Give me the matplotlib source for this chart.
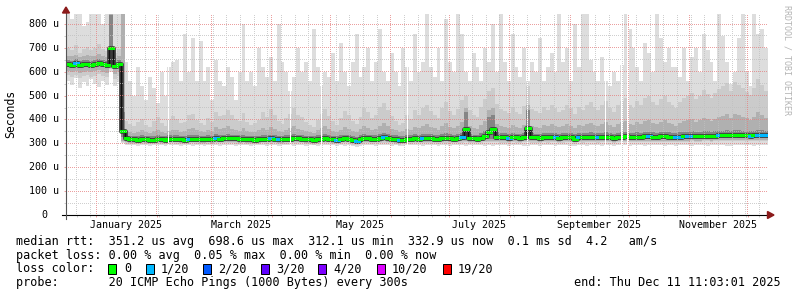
import datetime as dt
import numpy as np
import matplotlib
matplotlib.use("Agg")
import matplotlib.pyplot as plt
import matplotlib.dates as mdates
from matplotlib.ticker import MultipleLocator
from matplotlib.transforms import offset_copy
from matplotlib.patches import Rectangle, Polygon
from matplotlib.lines import Line2D

plt.rcParams['font.family'] = ['DejaVu Sans Mono', 'DejaVu Sans']

# ---------------- data ----------------
START = dt.datetime(2024, 12, 16, 11, 3, 1)
END = dt.datetime(2025, 12, 11, 11, 3, 1)
BUCKET_DAYS = 2

# top of the smoke (slowest ping), microseconds, one value per 2-day bucket
rtt_max = [
    850, 820, 850, 850, 790, 810, 850, 850, 850, 800, 850, 850, 850, 850,
    850,
    640, 560, 500, 620, 540, 480, 580, 530, 470, 600, 500,
    620,
    640, 650, 560, 760, 600, 740, 560, 730, 560,
    620, 480, 650, 560, 540, 620, 580, 480, 600,
    800, 560, 600, 540, 700, 620, 580, 660,
    560, 800, 640, 600, 520, 580, 700, 600,
    640, 560, 780, 620, 540, 600, 580, 680,
    560, 720, 600, 540, 640, 760, 580, 620,
    700, 560, 640, 780, 600, 560, 680, 600,
    540, 700, 620, 560, 760, 600, 640, 850,
    620, 580, 700, 560, 820, 640, 600, 850,
    760, 600, 560, 680, 620, 560, 700, 640,
    800, 600, 850, 640, 560, 760, 620, 580,
    700, 560, 640, 600, 740, 560, 620, 680,
    600, 850, 640, 700, 560, 800, 620, 850,
    850, 650, 600, 560, 660, 560, 540, 600,
    560, 630, 850, 780, 700, 620, 560, 720,
    680, 600, 850, 740, 640, 700, 620, 620,
    580, 700, 560, 660, 700, 600, 760, 690,
    640, 560, 850, 750, 640, 550, 600, 740,
    850, 600, 540, 850, 760, 780, 700]

# bottom of the smoke (fastest ping)
rtt_min = [
    560, 545, 575, 530, 555, 540, 570, 550, 535, 560, 545, 600, 540, 555,
    300,
    294, 292, 295, 291, 293, 294, 290, 292, 295, 293, 291, 294, 292, 293, 290,
    293, 295, 291, 292, 294, 290, 293, 292, 295, 291, 293, 294, 292, 290, 293,
    292, 294, 291, 293, 295, 292, 290, 294, 293, 291, 292, 295, 293, 290, 292,
    294, 291, 293, 292, 290, 295, 293, 292, 294, 291, 293, 290, 292, 288, 286,
    291, 293, 295, 292, 290, 294, 292, 293, 291, 295, 288, 289, 293, 294, 292,
    293, 290, 292, 294, 293, 291, 295, 292, 290, 293, 294, 292, 291, 293, 295,
    292, 294, 290, 293, 291, 292, 295, 293, 290, 292, 294, 293, 291, 290, 294,
    293, 291, 294, 292, 295, 290, 293, 292, 294, 291, 288, 295, 292, 290, 293,
    295, 292, 290, 294, 293, 291, 292, 295, 293, 290, 294, 292, 293, 291, 294,
    292, 295, 293, 290, 292, 294, 291, 293, 295, 292, 290, 294, 293, 292, 291,
    294, 292, 293, 295, 291, 290, 293, 294, 292, 295, 293, 291, 292, 294, 293]

band2_lo = [
    585, 578, 588, 575, 582, 586, 578, 584, 590, 582, 576, 610, 570, 582,
    304,
    299, 297, 298, 297, 299, 298, 296, 297, 299, 298, 297, 299, 300, 299, 298,
    297, 299, 300, 299, 298, 297, 299, 298, 301, 300, 300, 301, 300, 299, 298,
    300, 298, 297, 296, 298, 300, 299, 301, 300, 298, 297, 299, 300, 301, 300,
    300, 298, 297, 295, 298, 300, 301, 300, 298, 296, 299, 301, 300, 295, 293,
    298, 301, 300, 299, 300, 301, 303, 302, 300, 298, 295, 296, 300, 299, 301,
    300, 301, 302, 301, 300, 299, 302, 303, 301, 300, 302, 303, 304, 302, 301,
    300, 303, 304, 305, 306, 304, 303, 303, 302, 304, 303, 302, 304, 305, 303,
    303, 302, 304, 303, 304, 304, 302, 303, 304, 304, 299, 304, 303, 304, 305,
    304, 303, 304, 305, 304, 302, 304, 305, 306, 304, 304, 305, 304, 306, 307,
    305, 304, 306, 307, 305, 304, 304, 305, 306, 307, 308, 306, 307, 308, 308,
    307, 308, 309, 310, 311, 309, 311, 310, 310, 309, 308, 310, 311, 310, 309]

band2_hi = [
    700, 690, 710, 680, 695, 705, 690, 700, 715, 695, 685, 850, 680, 695,
    850,
    395, 380, 372, 390, 402, 376, 368, 392, 410, 384, 372, 396, 414, 404, 384,
    390, 418, 425, 398, 386, 376, 408, 390, 432, 414, 420, 440, 418, 404, 394,
    428, 390, 376, 384, 400, 432, 412, 444, 418, 394, 380, 408, 424, 448, 420,
    410, 390, 376, 368, 398, 424, 444, 416, 394, 376, 408, 436, 420, 394, 380,
    410, 448, 432, 408, 418, 452, 470, 440, 414, 394, 376, 386, 418, 404, 440,
    420, 448, 462, 434, 418, 408, 448, 474, 436, 420, 444, 480, 500, 440, 420,
    412, 452, 484, 520, 530, 464, 444, 436, 428, 452, 432, 424, 456, 540, 444,
    436, 428, 452, 440, 460, 448, 432, 440, 460, 448, 424, 452, 440, 460, 472,
    452, 440, 460, 476, 448, 432, 460, 476, 492, 460, 448, 476, 460, 488, 500,
    472, 460, 484, 500, 472, 460, 448, 472, 488, 500, 512, 484, 500, 524, 508,
    492, 512, 528, 540, 552, 520, 556, 544, 532, 516, 504, 532, 568, 544, 520]

band3_lo = [
    602, 598, 604, 596, 600, 604, 598, 602, 606, 600, 596, 620, 592, 600,
    310,
    304, 302, 303, 302, 304, 303, 301, 302, 304, 303, 302, 304, 305, 304, 303,
    302, 304, 305, 304, 303, 302, 304, 303, 306, 305, 305, 306, 305, 304, 303,
    305, 303, 302, 301, 303, 305, 304, 306, 305, 303, 302, 304, 305, 306, 305,
    305, 303, 302, 300, 303, 305, 306, 305, 303, 301, 304, 306, 305, 300, 298,
    303, 306, 305, 304, 305, 306, 308, 307, 305, 303, 300, 301, 305, 304, 306,
    305, 306, 307, 306, 305, 304, 307, 308, 306, 305, 307, 308, 309, 307, 306,
    305, 308, 309, 310, 311, 309, 308, 308, 307, 309, 308, 307, 309, 310, 308,
    308, 307, 309, 308, 309, 309, 307, 308, 309, 309, 304, 309, 308, 309, 310,
    309, 308, 309, 310, 309, 307, 309, 310, 311, 309, 309, 310, 309, 311, 312,
    310, 309, 311, 312, 310, 309, 309, 310, 311, 312, 313, 311, 312, 313, 313,
    312, 313, 314, 315, 316, 314, 316, 315, 315, 314, 313, 315, 316, 315, 314]

band3_hi = [
    668, 664, 672, 660, 666, 670, 664, 668, 674, 666, 660, 845, 656, 666,
    845,
    352, 348, 345, 349, 354, 346, 344, 350, 356, 348, 345, 352, 358, 354, 348,
    350, 360, 364, 354, 351, 347, 357, 350, 368, 360, 363, 372, 362, 356, 352,
    364, 350, 346, 349, 354, 366, 358, 370, 362, 352, 348, 357, 364, 372, 362,
    358, 350, 346, 343, 354, 364, 372, 362, 352, 346, 358, 368, 362, 352, 346,
    360, 372, 366, 358, 362, 374, 384, 372, 362, 354, 346, 350, 362, 356, 368,
    364, 374, 380, 370, 364, 358, 374, 384, 370, 364, 372, 388, 450, 372, 364,
    362, 376, 392, 440, 450, 380, 374, 370, 366, 376, 368, 364, 378, 460, 372,
    370, 366, 376, 372, 380, 374, 368, 372, 380, 374, 364, 376, 372, 380, 386,
    378, 372, 380, 388, 376, 368, 380, 388, 394, 380, 376, 388, 380, 392, 398,
    386, 380, 390, 398, 386, 380, 374, 386, 394, 398, 404, 390, 398, 408, 402,
    394, 402, 410, 416, 422, 408, 424, 418, 412, 406, 400, 412, 432, 418, 408]

band4_lo = [
    618, 616, 620, 614, 618, 620, 616, 618, 622, 618, 614, 628, 610, 618,
    325,
    310, 308, 309, 308, 310, 309, 307, 308, 310, 309, 308, 310, 311, 310, 309,
    308, 310, 311, 310, 309, 308, 310, 309, 312, 311, 311, 313, 312, 311, 310,
    311, 309, 308, 307, 309, 311, 310, 312, 311, 309, 308, 310, 311, 312, 311,
    311, 309, 308, 306, 309, 311, 312, 311, 309, 307, 310, 312, 311, 306, 303,
    309, 312, 311, 310, 311, 312, 315, 314, 311, 309, 306, 307, 311, 310, 312,
    311, 312, 313, 312, 311, 310, 313, 314, 312, 311, 313, 315, 316, 313, 312,
    311, 314, 316, 318, 320, 316, 315, 314, 313, 315, 314, 313, 316, 318, 315,
    314, 313, 315, 314, 316, 315, 313, 314, 316, 315, 310, 315, 314, 316, 317,
    315, 314, 316, 317, 315, 313, 316, 317, 318, 316, 315, 317, 316, 318, 319,
    317, 316, 318, 319, 317, 316, 315, 317, 318, 319, 320, 318, 319, 321, 320,
    319, 321, 322, 323, 324, 322, 325, 324, 323, 322, 321, 323, 325, 324, 322]

band4_hi = [
    648, 645, 652, 644, 648, 650, 646, 648, 652, 648, 644, 838, 640, 648,
    430,
    333, 331, 330, 331, 333, 330, 329, 332, 334, 331, 330, 333, 335, 333, 331,
    331, 334, 336, 333, 332, 330, 334, 332, 338, 335, 336, 339, 336, 334, 333,
    336, 332, 330, 330, 332, 336, 334, 337, 335, 332, 331, 334, 335, 338, 336,
    335, 332, 331, 329, 333, 336, 338, 335, 332, 330, 334, 337, 335, 330, 326,
    334, 338, 337, 335, 336, 339, 343, 340, 336, 333, 330, 332, 336, 334, 338,
    336, 339, 341, 338, 336, 335, 339, 342, 338, 336, 339, 344, 430, 340, 337,
    336, 342, 352, 410, 420, 346, 343, 342, 340, 343, 341, 340, 344, 440, 342,
    341, 340, 343, 342, 344, 343, 341, 342, 344, 343, 338, 343, 342, 344, 346,
    344, 342, 344, 346, 343, 341, 344, 346, 347, 344, 343, 346, 344, 347, 349,
    346, 344, 347, 349, 346, 344, 343, 346, 347, 349, 350, 347, 349, 351, 350,
    348, 350, 352, 353, 355, 352, 356, 354, 353, 351, 350, 353, 358, 354, 352]

rtt_median = [
    632, 630, 636, 628, 632, 634, 630, 632, 636, 632, 628, 700, 622, 632,
    350,
    322, 318, 317, 316, 318, 317, 315, 316, 318, 317, 316, 318, 320, 319, 317,
    316, 318, 320, 319, 318, 317, 319, 318, 322, 320, 321, 323, 322, 321, 319,
    320, 318, 317, 316, 318, 320, 319, 321, 320, 318, 317, 319, 320, 322, 321,
    320, 318, 317, 315, 318, 320, 322, 320, 318, 316, 319, 321, 320, 315, 312,
    318, 322, 321, 319, 320, 322, 326, 324, 320, 318, 315, 316, 320, 319, 321,
    320, 322, 323, 321, 320, 319, 322, 324, 321, 320, 322, 326, 362, 323, 321,
    320, 324, 330, 348, 360, 328, 326, 325, 324, 326, 325, 324, 327, 365, 326,
    325, 324, 326, 325, 327, 326, 324, 325, 327, 326, 320, 326, 325, 327, 328,
    326, 325, 327, 328, 326, 324, 327, 328, 329, 327, 326, 328, 327, 329, 330,
    328, 327, 329, 330, 328, 327, 326, 328, 329, 330, 331, 329, 330, 332, 331,
    330, 332, 333, 334, 335, 333, 336, 335, 334, 333, 332, 334, 336, 335, 333]

# buckets whose median had 1 of 20 pings lost
loss_1_of_20 = [2, 31, 38, 52, 54, 69, 74, 81, 85, 91, 101, 113, 125, 131,
                136, 149, 156, 157, 159, 160, 167, 175, 177, 178, 179]

# short periods without data
outage_start = ["2025-02-06 18:00", "2025-04-10 08:00", "2025-04-26 06:00",
                "2025-06-09 04:00", "2025-08-09 18:00", "2025-09-18 20:00",
                "2025-09-27 01:00", "2025-09-30 04:00"]
outage_hours = [18, 18, 12, 12, 12, 12, 24, 24]

y_ticks = [0, 100, 200, 300, 400, 500, 600, 700, 800]
y_tick_labels = ["0", "100 u", "200 u", "300 u", "400 u", "500 u",
                 "600 u", "700 u", "800 u"]
month_label_starts = [dt.datetime(2025, 1, 1), dt.datetime(2025, 3, 1),
                      dt.datetime(2025, 5, 1), dt.datetime(2025, 7, 1),
                      dt.datetime(2025, 9, 1), dt.datetime(2025, 11, 1)]
month_labels = ["January 2025", "March 2025", "May 2025", "July 2025",
                "September 2025", "November 2025"]

loss_labels = ["0", "1/20", "2/20", "3/20", "4/20", "10/20", "19/20"]
loss_colors = ["#00ff00", "#00b8ff", "#0059ff", "#5e00ff", "#7e00ff",
               "#dd00ff", "#ff0000"]

legend_rows = [
    "median rtt:  351.2 us avg  698.6 us max  312.1 us min  332.9 us now  0.1 ms sd  4.2   am/s",
    "packet loss: 0.00 % avg  0.05 % max  0.00 % min  0.00 % now",
    "loss color:",
    "probe:       20 ICMP Echo Pings (1000 Bytes) every 300s",
]
end_text = "end: Thu Dec 11 11:03:01 2025"

# ---------------- figure ----------------
W, H = 797, 297
fig = plt.figure(figsize=(W / 100, H / 100), dpi=100)
fig.patch.set_facecolor("white")
X0, X1, Y0, Y1 = 66, 768, 215, 14.45
ax = fig.add_axes([X0 / W, (H - Y0) / H, (X1 - X0) / W, (Y0 - Y1) / H])
ax.set_facecolor("white")
ax.set_xlim(mdates.date2num(START), mdates.date2num(END))
ax.set_ylim(0, 840)

n = len(rtt_max)
edges = [START + dt.timedelta(days=BUCKET_DAYS * i) for i in range(n + 1)]
xe = mdates.date2num(edges)


def ext(a):
    return list(a) + [a[-1]]


# smoke layers, lightest (all pings) to darkest (pings near the median)
layers = [(rtt_min, rtt_max, "#dddddd"), (band2_lo, band2_hi, "#cbcbcb"),
          (band3_lo, band3_hi, "#b0b0b0"), (band4_lo, band4_hi, "#858585")]
for lo, hi, col in layers:
    ax.fill_between(xe, ext(lo), ext(hi), step="post", color=col,
                    linewidth=0, antialiased=False, zorder=1)

# median line coloured by packet loss
ax.step(xe, ext(rtt_median), where="post", color="#3a3a3a", lw=3.4, zorder=2)
ax.step(xe, ext(rtt_median), where="post", color="#101010", lw=0.9, zorder=2.05)
lossset = set(loss_1_of_20)
seg_cols = [loss_colors[1] if i in lossset else loss_colors[0] for i in range(n)]
ax.hlines(rtt_median, xe[:-1], xe[1:], colors=seg_cols, lw=2.2, zorder=2.1,
          capstyle="projecting")

# gaps in the data
for s, h in zip(outage_start, outage_hours):
    t0 = dt.datetime.strptime(s, "%Y-%m-%d %H:%M")
    ax.axvspan(mdates.date2num(t0), mdates.date2num(t0 + dt.timedelta(hours=h)),
               color="white", lw=0, zorder=2.3)

MG = (0.9, 0.5, 0.5, 0.75)
mg = (0.75, 0.75, 0.75, 0.75)
ax.xaxis.set_major_locator(mdates.MonthLocator())
ax.xaxis.set_minor_locator(mdates.WeekdayLocator(byweekday=mdates.SU))
ax.yaxis.set_major_locator(MultipleLocator(100))
ax.yaxis.set_minor_locator(MultipleLocator(50))
ax.tick_params(which="both", labelbottom=False, labelleft=False,
               length=1.6, width=0.72, direction="out")
ax.tick_params(which="major", color=MG)
ax.tick_params(which="minor", color=mg)
for sp in ax.spines.values():
    sp.set_visible(False)

# dotted grid (1 px on / 1 px off) at the axis tick locations, on top of the plot
gimg = np.zeros((H, W, 4), dtype=float)
tr = ax.transData
ylo, yhi = ax.get_ylim()
xlo, xhi = ax.get_xlim()
px_left = int(np.floor(tr.transform((xlo, 0))[0]))
px_right = int(np.floor(tr.transform((xhi, 0))[0]))
row_top = int(np.ceil(H - tr.transform((xlo, yhi))[1]))
row_bot = int(np.floor(H - tr.transform((xlo, ylo))[1]))


def put_h(val, col):
    r = int(np.floor(H - tr.transform((xlo, val))[1]))
    for c in range(px_left + 1, px_right):
        if c % 2 == 0:
            gimg[r, c] = col


def put_v(val, col):
    c = int(np.floor(tr.transform((val, 0))[0]))
    for r in range(row_top, row_bot):
        if r % 2 == 1:
            gimg[r, c] = col


for v in ax.yaxis.get_minorticklocs():
    if ylo < v < yhi:
        put_h(v, mg)
for v in ax.xaxis.get_minorticklocs():
    if xlo < v < xhi:
        put_v(v, mg)
for v in ax.yaxis.get_majorticklocs():
    if ylo < v < yhi:
        put_h(v, MG)
for v in ax.xaxis.get_majorticklocs():
    if xlo < v < xhi:
        put_v(v, MG)
fig.figimage(gimg, xo=0, yo=0, origin="upper", zorder=0.5)


def axp(px, py):
    return ((px - X0) / (X1 - X0), (Y0 - py) / (Y0 - Y1))


ax.add_line(Line2D(*zip(axp(62, 215), axp(769, 215)), transform=ax.transAxes,
                   color="black", lw=0.8, clip_on=False, zorder=5))
ax.add_line(Line2D(*zip(axp(66, 219), axp(66, 11)), transform=ax.transAxes,
                   color="#555555", lw=0.8, clip_on=False, zorder=5))
ARR = "#8b1a1a"
ax.add_patch(Polygon([axp(767.5, 211.5), axp(774, 215), axp(767.5, 218.5)],
                     closed=True, transform=ax.transAxes, color=ARR,
                     clip_on=False, zorder=6))
ax.add_patch(Polygon([axp(62.5, 13), axp(66, 7), axp(69.5, 13)],
                     closed=True, transform=ax.transAxes, color=ARR,
                     clip_on=False, zorder=6))

# y tick labels
for v, lab in zip(y_ticks, y_tick_labels):
    off = -7 if lab != "0" else -19
    ax.text(0, v, lab, transform=offset_copy(ax.get_yaxis_transform(), fig=fig,
                                             x=off, y=0, units="dots"),
            ha="right", va="center", fontsize=7.2, color="black")

# x labels, centred in their month
for d, lab in zip(month_label_starts, month_labels):
    ax.text(mdates.date2num(d + dt.timedelta(days=15)), 0, lab,
            transform=offset_copy(ax.get_xaxis_transform(), fig=fig,
                                  x=0, y=-9.6, units="dots"),
            ha="center", va="center", fontsize=7.2, color="black")


def fp(px, py):
    return (px / W, 1 - py / H)


fig.text(*fp(10.5, 114), "Seconds", rotation=90, ha="center", va="center",
         fontsize=8.3)
fig.text(*fp(787.5, 60), "RRDTOOL / TOBI OETIKER", rotation=270, ha="center",
         va="center", fontsize=6.0, color="#b4b4b4")

row_y = [241.7, 255.2, 269, 282.8]
LF = 8.5
for txt, yy in zip(legend_rows, row_y):
    fig.text(*fp(16, yy), txt, ha="left", va="center", fontsize=LF)

box_x = [108.3, 145.7, 203.3, 261, 318.3, 376.7, 442.7]
lab_x = [124, 160.7, 218.3, 276, 333.3, 391.7, 457.3]
for bx, lx, lab, col in zip(box_x, lab_x, loss_labels, loss_colors):
    fig.add_artist(Rectangle(fp(bx, 274), 8 / W, 10 / H, transform=fig.transFigure,
                             facecolor=col, edgecolor="black", lw=0.72))
    fig.text(*fp(lx, 269), lab, ha="left", va="center", fontsize=LF)

fig.text(*fp(781, 282.8), end_text, ha="right", va="center", fontsize=LF)

fig.savefig("out.png", dpi=100, facecolor="white")
